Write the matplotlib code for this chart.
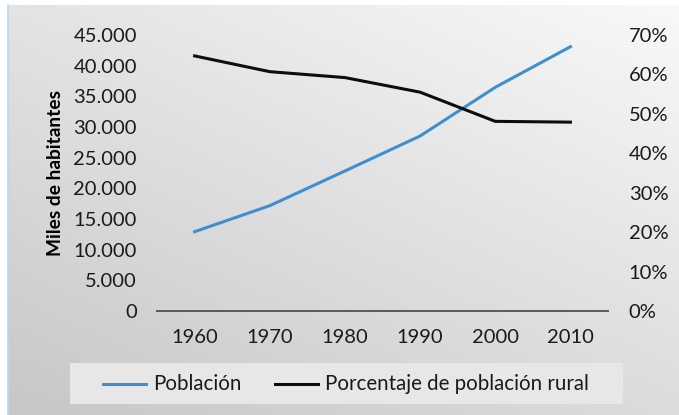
import matplotlib
matplotlib.use("Agg")
import matplotlib.pyplot as plt
import numpy as np
from matplotlib.lines import Line2D
from matplotlib.patches import Rectangle
from matplotlib.ticker import FuncFormatter

years = [1960, 1970, 1980, 1990, 2000, 2010]
poblacion = [12930, 17170, 22830, 28530, 36470, 43090]
rural_pct = [64.7, 60.7, 59.2, 55.5, 48.1, 47.9]
left_ticks = list(range(0, 45001, 5000))
right_ticks = list(range(0, 71, 10))

W, H = 679, 415
fig = plt.figure(figsize=(W / 100, H / 100), dpi=100)
fig.patch.set_facecolor("white")
plt.rcParams['font.family'] = ['Lato', 'DejaVu Sans']

# background gradient (chart area)
bg = fig.add_axes([8 / W, 0, 1 - 8 / W, 1 - 5 / H], zorder=-10)
gx = np.linspace(0, 1, 300)
gy = np.linspace(0, 1, 200)
X, Y = np.meshgrid(gx, gy)
t = np.clip(0.55 * (1 - X) + 0.75 * Y, 0, 1.3) / 1.3
val = 0.975 - t * (0.975 - 0.78)
img = np.dstack([val, val, val])
bg.imshow(img, aspect="auto", extent=[0, 1, 0, 1], origin="upper")
bg.set_axis_off()
fig.add_artist(Line2D([7.5 / W, 7.5 / W], [0, 1 - 5 / H], color="#bcd7ee", lw=1.2))

# main axes
x0, x1 = 157, 608
y_top, y0 = 35, 311
ax = fig.add_axes([x0 / W, 1 - y0 / H, (x1 - x0) / W, (y0 - y_top) / H])
ax.set_facecolor("none")
ax.plot(years, poblacion, color="#3e8fd0", lw=2.2, solid_joinstyle="miter")
ax.set_xlim(1955, 2015)
ax.set_ylim(0, 45000)
ax.set_yticks(left_ticks)
ax.yaxis.set_major_formatter(FuncFormatter(lambda v, p: f"{int(v):,}".replace(",", ".")))
ax.set_xticks(years)
for s in ["top", "right", "left"]:
    ax.spines[s].set_visible(False)
ax.spines["bottom"].set_color("#5a5a5a")
ax.spines["bottom"].set_linewidth(1.4)
ax.tick_params(axis="both", length=0, labelsize=14.5, colors="#1a1a1a")
ax.tick_params(axis="y", pad=14.5)
ax.tick_params(axis="x", pad=13)
ax.set_ylabel("Miles de habitantes", fontsize=13.8, fontweight="bold", labelpad=7)

ax2 = ax.twinx()
ax2.plot(years, rural_pct, color="#0d0d0d", lw=2.2)
ax2.set_ylim(0, 70)
ax2.set_yticks(right_ticks)
ax2.yaxis.set_major_formatter(FuncFormatter(lambda v, p: f"{int(v)}%"))
for s in ["top", "right", "left", "bottom"]:
    ax2.spines[s].set_visible(False)
ax2.tick_params(axis="y", length=0, labelsize=14.5, colors="#1a1a1a", pad=15)

# legend box
fig.add_artist(Rectangle((70 / W, 1 - 404 / H), (623 - 70) / W, (404 - 363) / H,
                         transform=fig.transFigure, facecolor="#e7e7e7", edgecolor="none", zorder=1))
ly = 1 - 383.5 / H
fig.add_artist(Line2D([103 / W, 146 / W], [ly, ly], color="#3e8fd0", lw=2.2, zorder=2))
fig.text(153 / W, ly, "Población", fontsize=14.8, va="center", ha="left", color="#1a1a1a", zorder=2)
fig.add_artist(Line2D([275 / W, 318 / W], [ly, ly], color="#0d0d0d", lw=2.2, zorder=2))
fig.text(325 / W, ly, "Porcentaje de población rural", fontsize=14.8, va="center", ha="left",
         color="#1a1a1a", zorder=2)

fig.savefig("out.png", dpi=100)
